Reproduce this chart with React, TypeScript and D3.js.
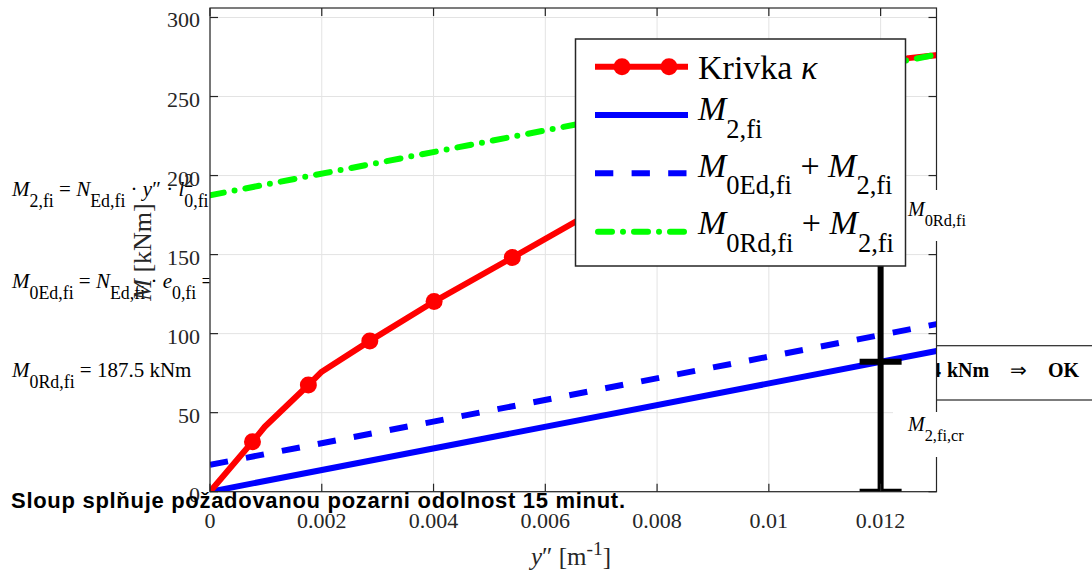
import React from "react";
import * as d3 from "d3";

// curvature y'' [1/m] and moment M [kNm] of the kappa curve (vertices)
const KAPPA_CURVE = [0, 0.00076, 0.00098, 0.00176, 0.002, 0.00286, 0.00401, 0.00541, 0.007, 0.0088, 0.0107, 0.0125, 0.0135];
const M_CURVE = [0, 31.6, 41.1, 67.5, 75.9, 95.4, 120.3, 148.1, 180, 215, 248, 274.3, 278];
// vertices that carry a marker
const MARKER_IDX = [1, 3, 5, 6, 7, 8, 9, 10];

// straight lines, start and end value
const KAPPA_LINE = [0, 0.013];
const M2_FI = [0, 89];
const M0ED_M2 = [17, 106];
const M0RD_M2 = [187.5, 276.5];

// critical curvature bar
const KAPPA_CR = 0.012;
const CR_LEVELS = [0, 82.2, 269.7];

const X_TICKS = [0, 0.002, 0.004, 0.006, 0.008, 0.01, 0.012];
const X_TICK_LABELS = ["0", "0.002", "0.004", "0.006", "0.008", "0.01", "0.012"];
const Y_TICKS = [0, 50, 100, 150, 200, 250, 300];

const SERIF = "'Liberation Serif', 'Times New Roman', serif";
const AX = "#262626";

type Part = { s: string; i?: boolean; sub?: boolean; sup?: boolean; dx?: number };

function Tex({ x, y, size, parts, anchor = "start", weight = "normal", fill = "#000", ratio = 0.78 }: any) {
  let cur = 0;
  return (
    <text x={x} y={y} fontSize={size} fontFamily={SERIF} textAnchor={anchor} fontWeight={weight} fill={fill} style={{ whiteSpace: "pre" }}>
      {(parts as Part[]).map((p, k) => {
        const target = p.sub ? 0.52 * size : p.sup ? -0.42 * size : 0;
        const dy = target - cur;
        cur = target;
        return (
          <tspan key={k} dy={dy} dx={p.dx || 0} fontSize={p.sub || p.sup ? size * ratio : size} fontStyle={p.i ? "italic" : "normal"}>
            {p.s}
          </tspan>
        );
      })}
    </text>
  );
}

export default function App() {
  const x = d3.scaleLinear().domain([0, 0.013]).range([210, 936.5]);
  const y = d3.scaleLinear().domain([0, 306]).range([491.7, 8]);
  const [x0, x1] = x.range();
  const [y0, y1] = y.range();

  const line = d3.line<number[]>().x((d) => x(d[0])).y((d) => y(d[1]));
  const curve = line(KAPPA_CURVE.map((k, i) => [k, M_CURVE[i]])) || "";
  const straight = (vals: number[]) => line(KAPPA_LINE.map((k, i) => [k, vals[i]])) || "";

  const xc = x(KAPPA_CR);

  const blueDash = "18.3 18.3";
  const greenDash = "14 11 0 11";

  const legendRows = [66.7, 115, 173.3, 231.7];
  const lx0 = 595, lx1 = 688;

  return (
    <svg width={1092} height={574} style={{ position: "absolute", left: 0, top: 0, background: "#fff" }}>
      <defs>
        <clipPath id="plot">
          <rect x={x0} y={y1} width={x1 - x0} height={y0 - y1} />
        </clipPath>
      </defs>

      {/* annotations lying under the axes */}
      <Tex x={12} y={196} size={21} ratio={0.85} parts={[
        { s: "M", i: true }, { s: "2,fi", sub: true }, { s: " = " }, { s: "N", i: true }, { s: "Ed,fi", sub: true },
        { s: " · " }, { s: "y", i: true }, { s: "″ · " }, { s: "l", i: true }, { s: "2", sup: true },
        { s: "0,fi", sub: true, dx: -8.9 }, { s: " = 82.2 kNm" },
      ]} />
      <Tex x={12} y={288.3} size={21} ratio={0.85} parts={[
        { s: "M", i: true }, { s: "0Ed,fi", sub: true }, { s: " = " }, { s: "N", i: true }, { s: "Ed,fi", sub: true },
        { s: " · " }, { s: "e", i: true }, { s: "0,fi", sub: true }, { s: " = 17.0 kNm" },
      ]} />
      <Tex x={12} y={376.7} size={21} ratio={0.85} parts={[
        { s: "M", i: true }, { s: "0Rd,fi", sub: true }, { s: " = 187.5 kNm" },
      ]} />
      <rect x={700} y={345.7} width={420} height={54.3} fill="#fff" stroke={AX} strokeWidth={1.2} />
      <text x={941} y={376.7} fontFamily={SERIF} fontSize={20} fontWeight="bold" textAnchor="end">= 82.4</text>
      <text x={947} y={376.7} fontFamily={SERIF} fontSize={20} fontWeight="bold">kNm</text>
      <text x={1018} y={376.7} fontFamily={SERIF} fontSize={20} textAnchor="middle">⇒</text>
      <text x={1048} y={376.7} fontFamily={SERIF} fontSize={20} fontWeight="bold">OK</text>

      {/* axes */}
      <rect x={x0} y={y1} width={x1 - x0} height={y0 - y1} fill="#fff" />
      {X_TICKS.map((t) => (
        <line key={"gx" + t} x1={x(t)} x2={x(t)} y1={y0} y2={y1} stroke="#e3e3e3" strokeWidth={1} />
      ))}
      {Y_TICKS.map((t) => (
        <line key={"gy" + t} x1={x0} x2={x1} y1={y(t)} y2={y(t)} stroke="#e3e3e3" strokeWidth={1} />
      ))}

      <g clipPath="url(#plot)" fill="none">
        <path d={straight(M2_FI)} stroke="#0000ff" strokeWidth={6} />
        <path d={straight(M0ED_M2)} stroke="#0000ff" strokeWidth={6} strokeDasharray={blueDash} />
        <path d={curve} stroke="#ff0000" strokeWidth={6} strokeLinejoin="round" />
        {MARKER_IDX.map((i) => (
          <circle key={i} cx={x(KAPPA_CURVE[i])} cy={y(M_CURVE[i])} r={8.5} fill="#ff0000" />
        ))}
        <path d={straight(M0RD_M2)} stroke="#00ff00" strokeWidth={6} strokeDasharray={greenDash} strokeLinecap="round" />
        <line x1={xc} x2={xc} y1={y(CR_LEVELS[0])} y2={y(CR_LEVELS[2])} stroke="#000" strokeWidth={6} />
        {CR_LEVELS.map((v) => (
          <line key={v} x1={xc - 21} x2={xc + 21} y1={y(v)} y2={y(v)} stroke="#000" strokeWidth={6} />
        ))}
      </g>

      <rect x={x0} y={y1} width={x1 - x0} height={y0 - y1} fill="none" stroke={AX} strokeWidth={1.2} />
      {X_TICKS.map((t) => (
        <g key={"tx" + t} stroke={AX} strokeWidth={1.2}>
          <line x1={x(t)} x2={x(t)} y1={y0} y2={y0 - 8} />
          <line x1={x(t)} x2={x(t)} y1={y1} y2={y1 + 8} />
        </g>
      ))}
      {Y_TICKS.map((t) => (
        <g key={"ty" + t} stroke={AX} strokeWidth={1.2}>
          <line x1={x0} x2={x0 + 8} y1={y(t)} y2={y(t)} />
          <line x1={x1} x2={x1 - 8} y1={y(t)} y2={y(t)} />
        </g>
      ))}
      {X_TICKS.map((t, i) => (
        <text key={"lx" + t} x={x(t)} y={528} textAnchor="middle" fontFamily={SERIF} fontSize={22} fill={AX}>
          {X_TICK_LABELS[i]}
        </text>
      ))}
      {Y_TICKS.map((t) => (
        <text key={"ly" + t} x={200} y={y(t) + 10} textAnchor="end" fontFamily={SERIF} fontSize={22} fill={AX}>
          {t}
        </text>
      ))}
      <Tex x={571} y={565} size={25} anchor="middle" fill={AX} parts={[
        { s: "y", i: true }, { s: "″ [m" }, { s: "-1", sup: true }, { s: "]" },
      ]} />
      <g transform="translate(151,252) rotate(-90)">
        <Tex x={0} y={0} size={26} anchor="middle" fill={AX} parts={[{ s: "M", i: true }, { s: " [kNm]" }]} />
      </g>

      {/* labels beside the critical bar */}
      <rect x={893} y={190} width={80} height={51} fill="#fff" />
      <Tex x={908} y={216} size={20} ratio={0.82} parts={[{ s: "M", i: true }, { s: "0Rd,fi", sub: true }]} />
      <rect x={893} y={412} width={84} height={45} fill="#fff" />
      <Tex x={908} y={431} size={20} ratio={0.82} parts={[{ s: "M", i: true }, { s: "2,fi,cr", sub: true }]} />

      {/* legend */}
      <rect x={575.5} y={39} width={330} height={227} fill="#fff" stroke={AX} strokeWidth={1.5} />
      <line x1={lx0} x2={lx1} y1={legendRows[0]} y2={legendRows[0]} stroke="#ff0000" strokeWidth={6} />
      <circle cx={622} cy={legendRows[0]} r={8.5} fill="#ff0000" />
      <circle cx={669} cy={legendRows[0]} r={8.5} fill="#ff0000" />
      <line x1={lx0} x2={lx1} y1={legendRows[1]} y2={legendRows[1]} stroke="#0000ff" strokeWidth={6} />
      <line x1={lx0} x2={lx1} y1={legendRows[2]} y2={legendRows[2]} stroke="#0000ff" strokeWidth={6} strokeDasharray={blueDash} />
      <line x1={lx0 + 3} x2={lx1 - 3} y1={legendRows[3]} y2={legendRows[3]} stroke="#00ff00" strokeWidth={6} strokeDasharray={greenDash} strokeLinecap="round" />
      <Tex x={698} y={79.3} size={34} parts={[{ s: "Krivka " }, { s: "κ", i: true }]} />
      <Tex x={698} y={120} size={34} parts={[{ s: "M", i: true }, { s: "2,fi", sub: true }]} />
      <Tex x={698} y={176.7} size={34} parts={[
        { s: "M", i: true }, { s: "0Ed,fi", sub: true }, { s: " + " }, { s: "M", i: true }, { s: "2,fi", sub: true },
      ]} />
      <Tex x={698} y={234} size={34} parts={[
        { s: "M", i: true }, { s: "0Rd,fi", sub: true }, { s: " + " }, { s: "M", i: true }, { s: "2,fi", sub: true },
      ]} />

      <text x={11} y={508} fontFamily="'Liberation Sans', Arial, sans-serif" fontWeight="bold" fontSize={22}
        textLength={614} lengthAdjust="spacing" fill="#000">
        Sloup splňuje požadovanou pozarni odolnost 15 minut.
      </text>
    </svg>
  );
}
